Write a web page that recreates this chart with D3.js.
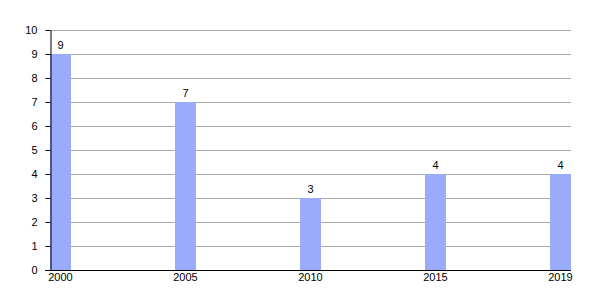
<!DOCTYPE html>
<html><head><meta charset="utf-8">
<script src="https://cdn.jsdelivr.net/npm/d3@7"></script>
<style>body{margin:0;background:#fff}svg{display:block}text{font-family:"Liberation Sans",Arial,sans-serif;font-size:11px;fill:#000}</style>
</head><body>
<svg id="c" width="600" height="300"></svg>
<script>
const categories = ["2000","2005","2010","2015","2019"];
const values = [9,7,3,4,4];
const yTicks = [0,1,2,3,4,5,6,7,8,9,10];

(function(){
const svg = d3.select("#c");
const mL = 50, mR = 571, mT = 30, mB = 270, barW = 21;
const x = d3.scalePoint().domain(categories).range([mL, mR - barW]);
const y = d3.scaleLinear().domain([0,10]).range([mB, mT]);

svg.append("g").selectAll("line").data(yTicks.filter(d=>d>0)).join("line")
  .attr("x1", mL).attr("x2", mR).attr("y1", d=>y(d)+0.5).attr("y2", d=>y(d)+0.5)
  .attr("stroke", "#aaa").attr("stroke-width", 1);

svg.append("g").selectAll("rect").data(values).join("rect")
  .attr("x", (d,i)=>x(categories[i])).attr("width", barW)
  .attr("y", d=>y(d)).attr("height", d=>mB - y(d))
  .attr("fill", "#9aabfc");

svg.append("g").selectAll("text").data(values).join("text")
  .attr("x", (d,i)=>x(categories[i]) + barW/2).attr("y", d=>y(d) - 5)
  .attr("text-anchor", "middle").text(d=>d);

const yAxis = svg.append("g").attr("transform", `translate(${mL+0.5},0)`)
  .call(d3.axisLeft(y).tickValues(yTicks).tickSize(5).tickPadding(8).tickSizeOuter(0));
yAxis.select(".domain").attr("stroke", "#000");
yAxis.selectAll(".tick line").attr("stroke", "#000");
yAxis.selectAll(".tick text").style("font-size","11px").style("font-family","'Liberation Sans',Arial,sans-serif").attr("fill","#000");

svg.append("line").attr("x1", mL-5).attr("x2", mR).attr("y1", mB+0.5).attr("y2", mB+0.5).attr("stroke","#000");

svg.append("g").selectAll("text").data(categories).join("text")
  .attr("x", d=>x(d) + barW/2).attr("y", mB + 11)
  .attr("text-anchor", "middle").text(d=>d);
})();
</script>
</body></html>
